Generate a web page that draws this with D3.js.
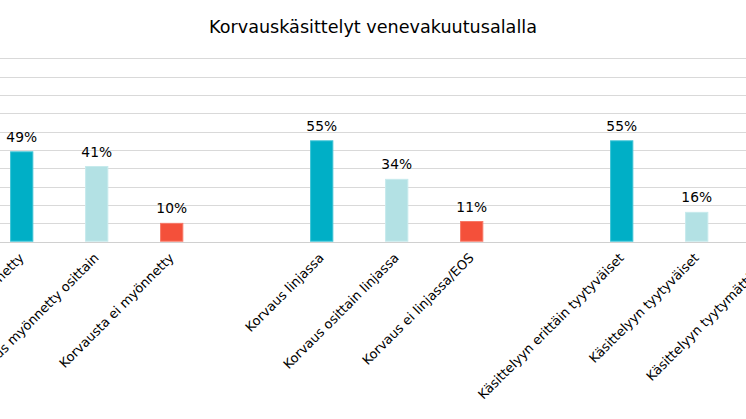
<!DOCTYPE html>
<html>
<head>
<meta charset="utf-8">
<script src="https://cdn.jsdelivr.net/npm/d3@7/dist/d3.min.js"></script>
<style>
  html, body { margin: 0; padding: 0; background: #fff; overflow: hidden; }
  svg { display: block; }
  text { font-family: "DejaVu Sans", Verdana, sans-serif; fill: #000; }
</style>
</head>
<body>
<script>
// ---- data ----
const title = "Korvauskäsittelyt venevakuutusalalla";
const categories = [
  "Korvaus myönnetty", "Korvaus myönnetty osittain", "Korvausta ei myönnetty", "",
  "Korvaus linjassa", "Korvaus osittain linjassa", "Korvaus ei linjassa/EOS", " ",
  "Käsittelyyn erittäin tyytyväiset", "Käsittelyyn tyytyväiset", "Käsittelyyn tyytymättömät"
];
const values = [49, 41, 10, null, 55, 34, 11, null, 55, 16, 29];
const kinds  = ["pos", "mid", "neg", null, "pos", "mid", "neg", null, "pos", "mid", "neg"];
const yTicks = [0, 10, 20, 30, 40, 50, 60, 70, 80, 90, 100];

const W = 746, H = 419;
const colors = { pos: "#00AFC6", mid: "#B3E1E4", neg: "#F4503A" };
const strokes = { pos: "#3CC3D6", mid: "#C6EAEC", neg: "#F77766" };

const svg = d3.select("body").append("svg").attr("width", W).attr("height", H);

const x = d3.scaleBand()
  .domain(d3.range(categories.length))
  .range([-15.8, -15.8 + 75 * categories.length])
  .paddingInner(0.69).paddingOuter(0.345);

const y = d3.scaleLinear().domain([0, 100]).range([241.7, 58.3]);

// gridlines
svg.append("g").selectAll("line").data(yTicks).join("line")
  .attr("x1", 0).attr("x2", W)
  .attr("y1", d => Math.round(y(d)) + 0.5).attr("y2", d => Math.round(y(d)) + 0.5)
  .attr("stroke", d => d === 0 ? "#D0D0D0" : "#D9D9D9")
  .attr("stroke-width", 1.2);

const data = values.map((v, i) => ({ i, v, k: kinds[i], c: categories[i] })).filter(d => d.v !== null);

// bars
svg.append("g").selectAll("rect").data(data).join("rect")
  .attr("x", d => x(d.i) + 0.5)
  .attr("width", x.bandwidth() - 1)
  .attr("y", d => y(d.v))
  .attr("height", d => y(0) - y(d.v) - 0.5)
  .attr("fill", d => colors[d.k])
  .attr("stroke", d => strokes[d.k])
  .attr("stroke-width", 1);

// value labels
svg.append("g").selectAll("text").data(data).join("text")
  .attr("x", d => x(d.i) + x.bandwidth() / 2)
  .attr("y", d => y(d.v) - 10)
  .attr("text-anchor", "middle")
  .style("font-size", "13.8px")
  .text(d => d.v + "%");

// category labels
svg.append("g").selectAll("text").data(data).join("text")
  .attr("transform", d => `translate(${x(d.i) + x.bandwidth() / 2 + 3},${y(0) + 17}) rotate(-45)`)
  .attr("text-anchor", "end")
  .style("font-size", "13px")
  .text(d => d.c);

// title
svg.append("text")
  .attr("x", 373).attr("y", 33)
  .attr("text-anchor", "middle")
  .style("font-size", "17.6px")
  .text(title);
</script>
</body>
</html>
